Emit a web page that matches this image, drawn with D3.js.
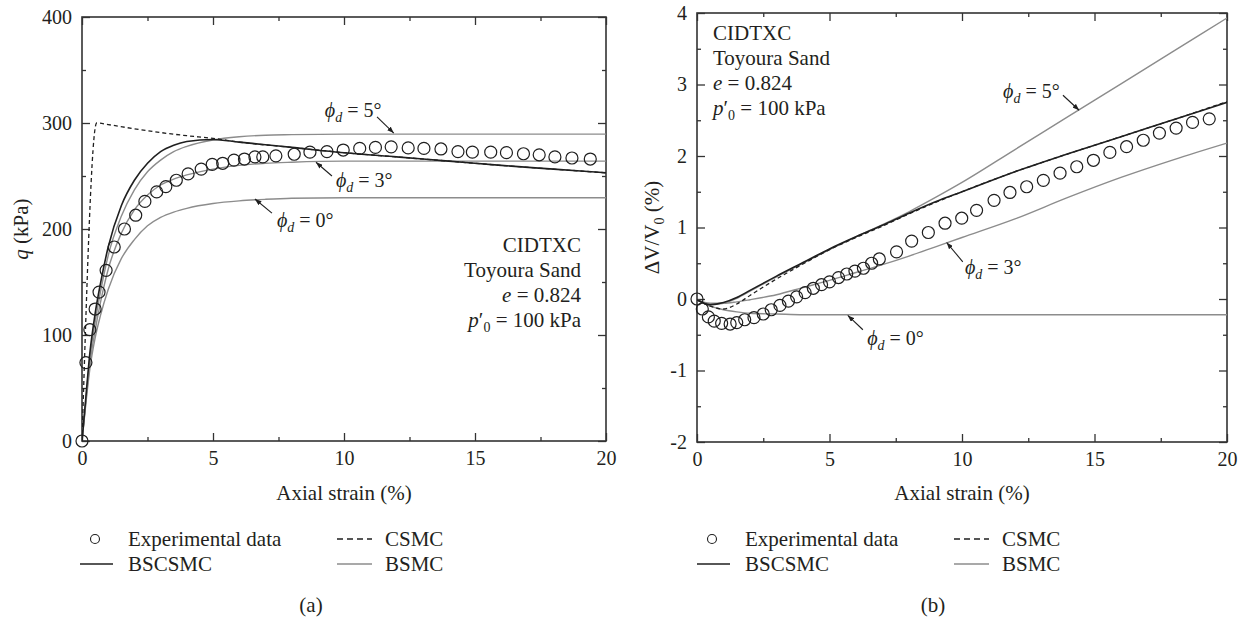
<!DOCTYPE html>
<html>
<head>
<meta charset="utf-8">
<script src="https://cdn.jsdelivr.net/npm/d3@7"></script>
<style>
body{margin:0;background:#fff;}
svg{display:block;}
text{font-family:'Liberation Serif','Times New Roman',serif;fill:#231f20;font-size:21px;}
</style>
</head>
<body>
<div class="container"></div>
<script>
const WIDTH = 1245;
const HEIGHT = 621;
const INK = "#1f1f1f";
const GREY = "#8c8c8c";

// ---- ticks
const strainTicks = [0, 5, 10, 15, 20];
const strainMinor = [2.5, 7.5, 12.5, 17.5];
const qTicks = [0, 100, 200, 300, 400];
const qMinor = [50, 150, 250, 350];
const volTicks = [-2, -1, 0, 1, 2, 3, 4];
const volMinor = [-1.5, -0.5, 0.5, 1.5, 2.5, 3.5];

// ---- (a) deviator stress q (kPa) vs axial strain (%)
const expStrainA = [0, 0.15, 0.3, 0.5, 0.65, 0.92, 1.23, 1.62, 2.05, 2.4, 2.85, 3.2, 3.6, 4.05, 4.55, 4.97, 5.37, 5.8, 6.2, 6.6, 6.9, 7.4, 8.1, 8.7, 9.35, 9.97, 10.6, 11.2, 11.8, 12.45, 13.05, 13.7, 14.35, 14.9, 15.6, 16.2, 16.85, 17.45, 18.05, 18.7, 19.4];
const expQ = [0, 74, 105, 124.5, 140.5, 161, 183, 200, 213, 226, 235, 240, 246, 252, 256.5, 261, 262, 265, 266, 268, 268, 269, 270.5, 272.5, 273, 274.5, 276, 277, 277.5, 276.5, 276, 275.5, 273, 272.5, 272.5, 272, 271, 270, 268, 267, 266];

const modelStrainA = [0, 0.15, 0.3, 0.5, 0.7, 1, 1.5, 2, 2.5, 3, 3.5, 4, 5, 6, 7, 8, 10, 12, 14, 16, 18, 20];
const bscsmcQ = [0, 42, 83, 120, 148, 183, 222, 246, 262, 273, 279, 282.5, 284.5, 282, 279.5, 277, 272, 268, 264, 260, 256.5, 253];
const bsmc5Q = [0, 40, 78, 112, 140, 175, 212, 237, 254, 265, 273, 278, 284, 287, 288.5, 289, 289.5, 289.5, 289.5, 289.5, 289.5, 289.5];
const bsmc3Q = [0, 38, 73, 104, 130, 162, 196, 218, 232, 241.5, 247, 251, 256.5, 260, 262, 263, 264, 264, 264, 264, 264, 264];
const bsmc0Q = [0, 36, 68, 97, 118, 143, 172, 190, 203, 211, 216, 219.5, 224, 226.5, 228, 229, 229.5, 229.5, 229.5, 229.5, 229.5, 229.5];

const csmcStrainA = [0, 0.56, 1, 2, 3, 4, 5, 6, 8, 10, 12, 14, 16, 18, 20];
const csmcQ = [0, 300, 298.5, 294.5, 291, 288, 285.5, 282, 277, 272, 268, 264, 260, 256.5, 253];

// ---- (b) volumetric strain (%) vs axial strain (%)
const expStrainB = [0, 0.2, 0.43, 0.65, 0.93, 1.25, 1.5, 1.8, 2.15, 2.5, 2.8, 3.13, 3.45, 3.76, 4.08, 4.39, 4.7, 5.0, 5.34, 5.65, 5.96, 6.28, 6.59, 6.88, 7.53, 8.1, 8.73, 9.36, 9.99, 10.55, 11.21, 11.81, 12.44, 13.07, 13.7, 14.33, 14.96, 15.58, 16.21, 16.84, 17.45, 18.08, 18.7, 19.33];
const expV = [0, -0.14, -0.25, -0.31, -0.34, -0.35, -0.33, -0.29, -0.26, -0.21, -0.15, -0.09, -0.03, 0.03, 0.09, 0.15, 0.2, 0.24, 0.3, 0.35, 0.39, 0.43, 0.5, 0.56, 0.66, 0.81, 0.93, 1.06, 1.13, 1.24, 1.38, 1.49, 1.57, 1.66, 1.76, 1.85, 1.94, 2.05, 2.13, 2.22, 2.32, 2.39, 2.47, 2.52];

const modelStrainB = [0, 0.5, 1, 1.5, 2, 3, 4, 5, 6, 7, 8, 9, 10, 12, 14, 16, 18, 20];
const bscsmcV = [-0.01, -0.08, -0.05, 0.02, 0.12, 0.32, 0.51, 0.7, 0.87, 1.03, 1.2, 1.36, 1.5, 1.78, 2.03, 2.27, 2.51, 2.75];
const csmcV = [-0.01, -0.1, -0.14, -0.07, 0.05, 0.28, 0.49, 0.69, 0.86, 1.02, 1.19, 1.35, 1.5, 1.78, 2.03, 2.27, 2.51, 2.76];
const bsmc5V = [-0.01, -0.08, -0.06, 0.01, 0.11, 0.31, 0.5, 0.69, 0.87, 1.04, 1.22, 1.42, 1.63, 2.09, 2.55, 3.01, 3.47, 3.93];
const bsmc3V = [-0.01, -0.06, -0.06, -0.04, -0.01, 0.06, 0.16, 0.26, 0.37, 0.48, 0.6, 0.73, 0.86, 1.12, 1.42, 1.7, 1.95, 2.18];
const bsmc0V = [-0.01, -0.1, -0.15, -0.18, -0.2, -0.21, -0.22, -0.22, -0.22, -0.22, -0.22, -0.22, -0.22, -0.22, -0.22, -0.22, -0.22, -0.22];

var zip = function(xs, ys){
	return xs.map(function(v, i){ return [v, ys[i]]; });
};

var translate = function(x, y){
	return "translate(" + x + "," + y + ")";
};

// text with italic / subscript pieces
var richText = function(g, x, y, parts, anchor, size){
	var t = g.append('text')
		.attr('x', x).attr('y', y)
		.attr('text-anchor', anchor || 'start');
	if(size) t.style('font-size', size + 'px');
	var shift = 0;
	parts.forEach(function(p){
		var s = t.append('tspan').text(p.t);
		var want = p.sub ? 5 : 0;
		if(want != shift) s.attr('dy', want - shift);
		shift = want;
		if(p.i) s.style('font-style', 'italic');
		if(p.sub) s.style('font-size', '14px');
	});
	return t;
};

var phiLabel = function(deg){
	return [{t: "\u03d5", i: true}, {t: "d", i: true, sub: true}, {t: " = " + deg + "\u00b0"}];
};

var conditionLines = [
	[{t: "CIDTXC"}],
	[{t: "Toyoura Sand"}],
	[{t: "e", i: true}, {t: " = 0.824"}],
	[{t: "p", i: true}, {t: "\u2032"}, {t: "0", sub: true}, {t: " = 100 kPa"}]
];

var drawPanel = function(svg, cfg){
	var x = d3.scaleLinear().domain([0, 20]).range([cfg.left, cfg.right]);
	var y = d3.scaleLinear().domain(cfg.yDomain).range([cfg.bottom, cfg.top]);
	var g = svg.append('g');
	var clipId = 'clip' + cfg.name;

	g.append('clipPath').attr('id', clipId).append('rect')
		.attr('x', cfg.left).attr('y', cfg.top)
		.attr('width', cfg.right - cfg.left).attr('height', cfg.bottom - cfg.top);

	// inward ticks on all four sides
	var tickAxis = function(axis, values, size, pos, labels, pad){
		var a = axis.tickValues(values).tickSize(-size).tickSizeOuter(0);
		if(labels) a.tickPadding(pad).tickFormat(labels);
		else a.tickFormat("");
		var ag = g.append('g').attr('transform', pos).call(a);
		ag.select('.domain').remove();
		ag.selectAll('line').attr('stroke', '#333').attr('stroke-width', 1.3);
		ag.selectAll('text').style('font-size', '20px').attr('fill', '#231f20')
			.style('font-family', "'Liberation Serif','Times New Roman',serif");
		return ag;
	};
	tickAxis(d3.axisBottom(x), strainTicks, 8, translate(0, cfg.bottom), d3.format("d"), 10);
	tickAxis(d3.axisBottom(x), strainMinor, 4, translate(0, cfg.bottom));
	tickAxis(d3.axisTop(x), strainTicks, 8, translate(0, cfg.top));
	tickAxis(d3.axisTop(x), strainMinor, 4, translate(0, cfg.top));
	tickAxis(d3.axisLeft(y), cfg.yTicks, 8, translate(cfg.left, 0), function(d){ return d < 0 ? "-" + Math.abs(d) : d; }, 10);
	tickAxis(d3.axisLeft(y), cfg.yMinor, 4, translate(cfg.left, 0));
	tickAxis(d3.axisRight(y), cfg.yTicks, 8, translate(cfg.right, 0));
	tickAxis(d3.axisRight(y), cfg.yMinor, 4, translate(cfg.right, 0));

	g.append('rect')
		.attr('x', cfg.left).attr('y', cfg.top)
		.attr('width', cfg.right - cfg.left).attr('height', cfg.bottom - cfg.top)
		.attr('fill', 'none').attr('stroke', '#333').attr('stroke-width', 1.6);

	var line = d3.line()
		.x(function(d){ return x(d[0]); })
		.y(function(d){ return y(d[1]); })
		.curve(d3.curveMonotoneX);

	var lines = g.append('g').attr('clip-path', 'url(#' + clipId + ')');
	cfg.series.forEach(function(s){
		lines.append('path')
			.datum(s.data)
			.attr('d', line)
			.attr('fill', 'none')
			.attr('stroke', s.color)
			.attr('stroke-width', s.width)
			.attr('stroke-dasharray', s.dash || null);
	});

	g.append('g').selectAll('circle')
		.data(cfg.points)
		.enter().append('circle')
		.attr('cx', function(d){ return x(d[0]); })
		.attr('cy', function(d){ return y(d[1]); })
		.attr('r', 6)
		.attr('fill', 'none')
		.attr('stroke', INK)
		.attr('stroke-width', 1.2);

	// phi_d annotations with arrows
	cfg.notes.forEach(function(n){
		g.append('line')
			.attr('x1', x(n.tail[0])).attr('y1', y(n.tail[1]))
			.attr('x2', x(n.tip[0])).attr('y2', y(n.tip[1]))
			.attr('stroke', INK).attr('stroke-width', 1.1)
			.attr('marker-end', 'url(#arrow)');
		richText(g, x(n.text[0]), y(n.text[1]) + 7, phiLabel(n.deg), 'start', 20);
	});

	// test conditions
	conditionLines.forEach(function(parts, i){
		richText(g, cfg.infoX, cfg.infoY + i * 25 + 7, parts, cfg.infoAnchor);
	});

	// axis titles
	g.append('text')
		.attr('x', (cfg.left + cfg.right) / 2).attr('y', 500)
		.attr('text-anchor', 'middle')
		.text("Axial strain (%)");
	var yl = richText(g, 0, 0, cfg.yLabel, 'middle');
	yl.attr('transform', translate(cfg.yLabelX, (cfg.top + cfg.bottom) / 2) + " rotate(-90)");

	// legend
	var lx = cfg.legendX;
	g.append('circle').attr('cx', lx + 15).attr('cy', 539).attr('r', 4.5)
		.attr('fill', 'none').attr('stroke', INK).attr('stroke-width', 1.1);
	g.append('text').attr('x', lx + 48).attr('y', 546).text("Experimental data");
	g.append('line').attr('x1', lx).attr('x2', lx + 33).attr('y1', 564).attr('y2', 564)
		.attr('stroke', INK).attr('stroke-width', 1.6);
	g.append('text').attr('x', lx + 48).attr('y', 571).text("BSCSMC");
	g.append('line').attr('x1', lx + 257).attr('x2', lx + 292).attr('y1', 539).attr('y2', 539)
		.attr('stroke', INK).attr('stroke-width', 1.3).attr('stroke-dasharray', '6,4');
	g.append('text').attr('x', lx + 305).attr('y', 546).text("CSMC");
	g.append('line').attr('x1', lx + 257).attr('x2', lx + 292).attr('y1', 564).attr('y2', 564)
		.attr('stroke', GREY).attr('stroke-width', 1.4);
	g.append('text').attr('x', lx + 305).attr('y', 571).text("BSMC");

	g.append('text').attr('x', cfg.captionX).attr('y', 612)
		.attr('text-anchor', 'middle').text(cfg.caption);
};

var createChart = function(){
	var svg = d3.select('.container').append('svg')
		.attr('width', WIDTH)
		.attr('height', HEIGHT);
	svg.append('rect').attr('width', WIDTH).attr('height', HEIGHT).attr('fill', '#fff');

	svg.append('defs').append('marker')
		.attr('id', 'arrow')
		.attr('viewBox', '0 0 8 6')
		.attr('refX', 8).attr('refY', 3)
		.attr('markerWidth', 7).attr('markerHeight', 5)
		.attr('markerUnits', 'userSpaceOnUse')
		.attr('orient', 'auto')
		.append('path').attr('d', 'M0,0L8,3L0,6Z').attr('fill', INK);

	drawPanel(svg, {
		name: 'a', left: 82, right: 606, top: 17, bottom: 441,
		yDomain: [0, 400], yTicks: qTicks, yMinor: qMinor,
		series: [
			{data: zip(modelStrainA, bsmc0Q), color: GREY, width: 1.4},
			{data: zip(modelStrainA, bsmc3Q), color: GREY, width: 1.4},
			{data: zip(modelStrainA, bsmc5Q), color: GREY, width: 1.4},
			{data: zip(csmcStrainA, csmcQ), color: INK, width: 1.3, dash: '4,3'},
			{data: zip(modelStrainA, bscsmcQ), color: INK, width: 1.6}
		],
		points: zip(expStrainA, expQ),
		notes: [
			{deg: 5, text: [9.27, 312], tail: [11.26, 305.7], tip: [11.9, 290.5]},
			{deg: 3, text: [9.69, 246], tail: [9.54, 250], tip: [8.93, 263]},
			{deg: 0, text: [7.44, 208.5], tail: [7.25, 215], tip: [6.6, 228.3]}
		],
		infoX: 581, infoY: 245, infoAnchor: 'end',
		yLabel: [{t: "q", i: true}, {t: " (kPa)"}], yLabelX: 28,
		legendX: 80, captionX: 311, caption: "(a)"
	});

	drawPanel(svg, {
		name: 'b', left: 697, right: 1227, top: 13, bottom: 442,
		yDomain: [-2, 4], yTicks: volTicks, yMinor: volMinor,
		series: [
			{data: zip(modelStrainB, bsmc0V), color: GREY, width: 1.4},
			{data: zip(modelStrainB, bsmc3V), color: GREY, width: 1.4},
			{data: zip(modelStrainB, bsmc5V), color: GREY, width: 1.4},
			{data: zip(modelStrainB, csmcV), color: INK, width: 1.3, dash: '4,3'},
			{data: zip(modelStrainB, bscsmcV), color: INK, width: 1.6}
		],
		points: zip(expStrainB, expV),
		notes: [
			{deg: 5, text: [11.55, 2.91], tail: [13.81, 2.85], tip: [14.42, 2.64]},
			{deg: 3, text: [10.11, 0.45], tail: [10.03, 0.52], tip: [9.42, 0.79]},
			{deg: 0, text: [6.42, -0.55], tail: [6.26, -0.43], tip: [5.69, -0.23]}
		],
		infoX: 713, infoY: 33, infoAnchor: 'start',
		yLabel: [{t: "\u0394V/V"}, {t: "0", sub: true}, {t: " (%)"}], yLabelX: 659,
		legendX: 697, captionX: 933, caption: "(b)"
	});
};

window.onload = createChart;
</script>
</body>
</html>
